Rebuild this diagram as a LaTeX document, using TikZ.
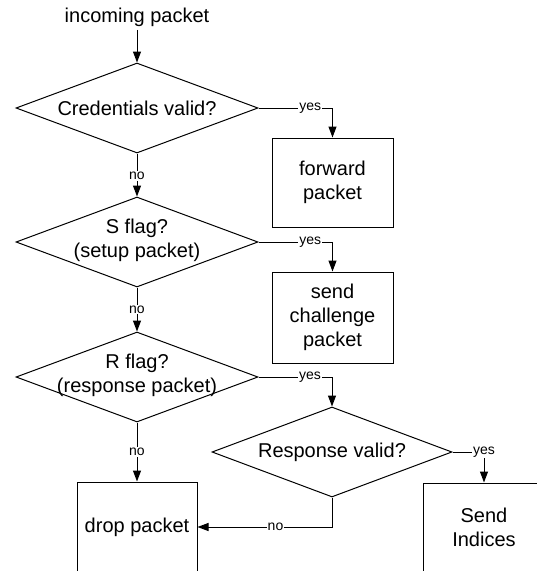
\documentclass[tikz,border=0pt]{standalone}
\usepackage{fontspec}
\setmainfont{Liberation Sans}
\usetikzlibrary{shapes.geometric,arrows.meta}
\begin{document}
\begin{tikzpicture}[x=1pt,y=-1pt,
  every node/.style={font=\fontsize{20}{24}\selectfont, text=black},
  decision/.style={draw, shape=diamond, minimum width=242pt, minimum height=90pt, inner sep=0pt, line width=1pt},
  proc/.style={draw, rectangle, minimum width=121pt, minimum height=90pt, inner sep=0pt, align=center, line width=1pt},
  dtext/.style={align=center},
  flow/.style={draw, line width=1pt, -{Triangle[length=11pt,width=8pt]}},
  lab/.style={font=\fontsize{14}{16}\selectfont, fill=white, inner sep=1pt}
]
\useasboundingbox (0,0) rectangle (537,571);
\clip (0,0) rectangle (537,571);

\node (in) at (137,17) {incoming packet};
\node[decision, label={[dtext]center:Credentials valid?}] (d1) at (137,108) {};
\node[proc, minimum height=89pt] (fwd) at (332.5,182.5) {forward\\packet};
\node[decision, label={[dtext, yshift=2pt]center:S flag?\\(setup packet)}] (d2) at (137,242) {};
\node[proc, minimum height=91pt] (chal) at (332.5,317.5) {send\\challenge\\packet};
\node[decision, label={[dtext, yshift=2pt]center:R flag?\\(response packet)}] (d3) at (137,377) {};
\node[decision, minimum width=240pt, label={[dtext]center:Response valid?}] (d4) at (332,452) {};
\node[proc, minimum width=120pt] (drop) at (137,527) {drop packet};
\node[proc, minimum height=89pt] (send) at (484,527.5) {Send\\Indices};

\draw[flow] (in) -- (d1.north);
\draw[flow] (d1.east) -| node[lab,pos=0.35]{yes} (fwd.north);
\draw[flow] (d1.south) -- node[lab,pos=0.53]{no} (d2.north);
\draw[flow] (d2.east) -| node[lab,pos=0.35]{yes} (chal.north);
\draw[flow] (d2.south) -- node[lab]{no} (d3.north);
\draw[flow] (d3.east) -| node[lab,pos=0.35]{yes} (d4.north);
\draw[flow] (d3.south) -- node[lab]{no} (drop.north);
\draw[flow] (d4.east) -| node[lab,pos=0.5]{yes} (send.north);
\draw[flow] (d4.south) |- node[lab,pos=0.71]{no} (drop.east);
\end{tikzpicture}
\end{document}
